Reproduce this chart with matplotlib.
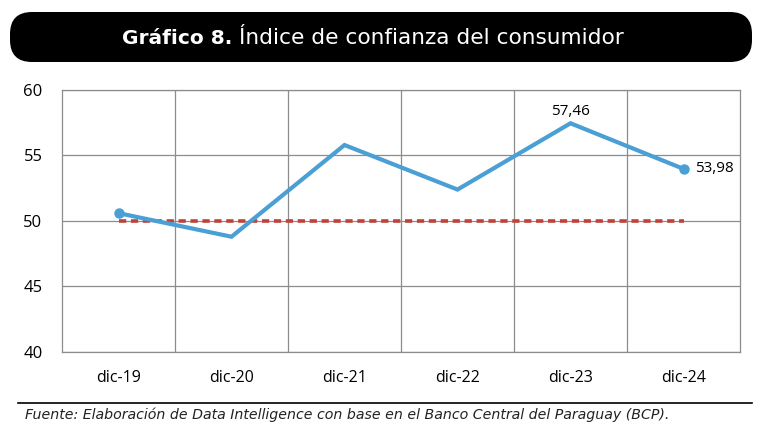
import matplotlib.pyplot as plt
from matplotlib.patches import FancyBboxPatch
import numpy as np

plt.rcParams['font.family'] = ['Open Sans', 'DejaVu Sans']

# datos
fechas = ['dic-19', 'dic-20', 'dic-21', 'dic-22', 'dic-23', 'dic-24']
indice = [50.6, 48.8, 55.8, 52.4, 57.46, 53.98]
umbral = [50, 50, 50, 50, 50, 50]
yticks = [40, 45, 50, 55, 60]

azul = '#4a9fd4'
rojo = '#c0413a'
gris = '#8c8c8c'

fig = plt.figure(figsize=(7.7, 4.47), dpi=100)

# fondo en pixeles para el titulo y la nota
bg = fig.add_axes([0, 0, 1, 1])
bg.set_xlim(0, 770)
bg.set_ylim(447, 0)
bg.axis('off')
box = FancyBboxPatch((10, 12), 742, 50, boxstyle="round,pad=0,rounding_size=22",
                     facecolor='black', edgecolor='none')
bg.add_patch(box)
bg.text(232, 38, 'Gráfico 8.', color='white', fontsize=14.5, fontweight='bold',
        family='DejaVu Sans', ha='right', va='center')
bg.text(239, 38, 'Índice de confianza del consumidor', color='white', fontsize=15.6,
        family='DejaVu Sans', ha='left', va='center')
bg.plot([18, 752], [403, 403], color='black', lw=1.2)
bg.text(25, 415, 'Fuente: Elaboración de Data Intelligence con base en el Banco Central del Paraguay (BCP).',
        fontsize=10.2, style='italic', family='DejaVu Sans', color='#222222',
        ha='left', va='center')

ax = fig.add_axes([62 / 770, 1 - 352 / 447, 678 / 770, 262 / 447])
x = np.arange(len(fechas))
ax.plot(x, umbral, color=rojo, lw=2.6, linestyle=(0, (2, 1.3)), zorder=2)
ax.plot(x, indice, color=azul, lw=3, marker='o', markersize=6.5, markevery=[0, 5],
        solid_joinstyle='miter', zorder=3)

ax.text(x[4], indice[4] + 0.3, '57,46', fontsize=11, ha='center', va='bottom')
ax.text(x[5] + 0.1, indice[5], '53,98', fontsize=11, ha='left', va='center')

ax.set_xlim(-0.5, 5.5)
ax.set_ylim(40, 60)
ax.set_yticks(yticks)
ax.set_xticks(x)
ax.set_xticklabels(fechas)
ax.set_xticks(np.arange(0.5, 5, 1), minor=True)
ax.grid(axis='y', color=gris, lw=0.9)
ax.grid(axis='x', which='minor', color=gris, lw=0.9)
ax.tick_params(which='both', length=0)
ax.tick_params(axis='y', labelsize=12, pad=14)
ax.tick_params(axis='x', labelsize=11.5, pad=13)
for s in ax.spines.values():
    s.set_color(gris)
    s.set_linewidth(0.9)
ax.set_axisbelow(True)

fig.savefig('out.png', dpi=100)
